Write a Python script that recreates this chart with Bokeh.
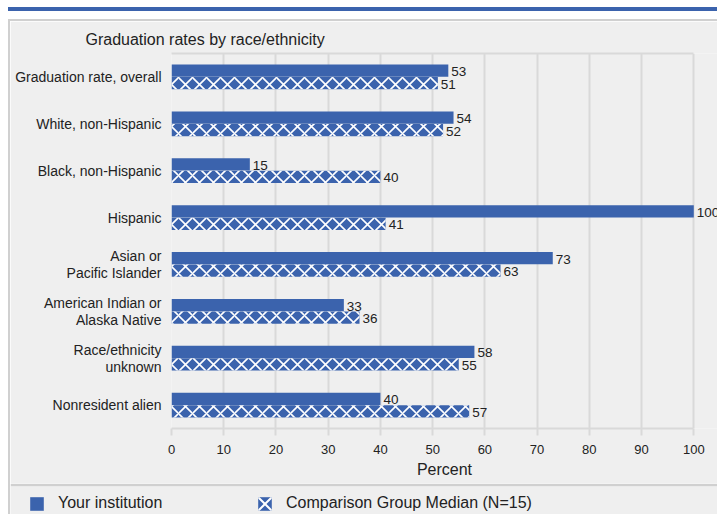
from bokeh.plotting import figure
from bokeh.models import (ColumnDataSource, LabelSet, Legend, LegendItem,
                          FactorRange, Range1d, LinearAxis, FixedTicker, Div)
from bokeh.layouts import column, row
from bokeh.transform import dodge
from bokeh.core.properties import value
from bokeh.embed import file_html
from bokeh.resources import INLINE

categories = ["Graduation rate, overall", "White, non-Hispanic",
              "Black, non-Hispanic", "Hispanic",
              "Asian or\nPacific Islander", "American Indian or\nAlaska Native",
              "Race/ethnicity\nunknown", "Nonresident alien"]
institution = [53, 54, 15, 100, 73, 33, 58, 40]
comparison = [51, 52, 40, 41, 63, 36, 55, 57]
x_ticks = list(range(0, 101, 10))

BLUE = "#3b63ad"
PANEL = "#efefef"
GRID = "#d9d9d9"
BORDER = "#d0d0d0"
FONT = "Liberation Sans"
TXT = "#222222"

src = ColumnDataSource(dict(cat=categories, inst=institution, comp=comparison,
                            inst_t=[str(v) for v in institution],
                            comp_t=[str(v) for v in comparison]))

p = figure(width=707, height=462, output_backend="svg", toolbar_location=None,
           y_range=FactorRange(*categories[::-1]), x_range=Range1d(0, 104.54),
           min_border_left=161, min_border_right=0, min_border_top=32,
           min_border_bottom=55, title="Graduation rates by race/ethnicity")
p.background_fill_color = PANEL
p.border_fill_color = PANEL
p.outline_line_color = None

off = 0.133
bh = 0.262
r1 = p.hbar(y=dodge("cat", off, range=p.y_range), right="inst", left=0, height=bh,
            source=src, fill_color=BLUE, line_color=None)
r2 = p.hbar(y=dodge("cat", -off, range=p.y_range), right="comp", left=0, height=bh,
            source=src, fill_color=BLUE, line_color=None,
            hatch_pattern="x", hatch_color="white", hatch_scale=14, hatch_weight=1.6)

for col, o, t in (("inst", off, "inst_t"), ("comp", -off, "comp_t")):
    p.add_layout(LabelSet(x=col, y=dodge("cat", o, range=p.y_range), text=t, source=src,
                          x_offset=3, y_offset=-1, text_baseline="middle",
                          text_font=value(FONT), text_font_size="13.5px", text_color=TXT))

p.xgrid.grid_line_color = GRID
p.xgrid.grid_line_width = 2
p.xgrid.ticker = x_ticks
p.ygrid.grid_line_color = None

p.xaxis.ticker = x_ticks
p.xaxis.bounds = (0, 100)
p.xaxis.axis_line_color = GRID
p.xaxis.axis_line_width = 2
p.xaxis.major_tick_line_color = GRID
p.xaxis.major_tick_line_width = 2
p.xaxis.major_tick_in = 0
p.xaxis.major_tick_out = 7
p.xaxis.minor_tick_line_color = None
p.xaxis.major_label_standoff = 9
p.xaxis.major_label_text_font = FONT
p.xaxis.major_label_text_font_size = "13px"
p.xaxis.major_label_text_color = TXT
p.xaxis.axis_label = "Percent"
p.xaxis.axis_label_text_font = FONT
p.xaxis.axis_label_text_font_size = "16px"
p.xaxis.axis_label_text_font_style = "normal"
p.xaxis.axis_label_text_color = TXT
p.xaxis.axis_label_standoff = 4

top_axis = LinearAxis(ticker=FixedTicker(ticks=[]), bounds=(0, 100),
                      axis_line_color=GRID, axis_line_width=2,
                      major_tick_line_color=None, minor_tick_line_color=None,
                      major_tick_out=0, minor_tick_out=0, major_label_standoff=0)
p.add_layout(top_axis, "above")

p.yaxis.axis_line_color = None
p.yaxis.major_tick_line_color = None
p.yaxis.major_tick_out = 0
p.yaxis.major_tick_in = 0
p.yaxis.major_label_standoff = 10
p.yaxis.major_label_text_font = FONT
p.yaxis.major_label_text_font_size = "14px"
p.yaxis.major_label_text_color = TXT
p.yaxis.major_label_text_line_height = 1.05

p.title.text_font = FONT
p.title.text_font_size = "16px"
p.title.text_font_style = "normal"
p.title.text_color = TXT
p.title.align = "left"
p.title.offset = -86
p.title.standoff = 11

# legend strip: its top border fill is the separator line
lf = figure(width=707, height=31, output_backend="svg", toolbar_location=None,
            x_range=Range1d(0, 707), y_range=Range1d(0, 28),
            x_axis_location=None, y_axis_location=None,
            min_border=0, min_border_left=0, min_border_right=0,
            min_border_top=3, min_border_bottom=0)
lf.background_fill_color = PANEL
lf.border_fill_color = BORDER
lf.outline_line_color = None
lf.grid.visible = False
# zero-size bars: only their legend swatches are seen
l1 = lf.hbar(y="inst", left="inst", right="inst", height=0, source=src,
             fill_color=BLUE, line_color=None)
l2 = lf.hbar(y="comp", left="comp", right="comp", height=0, source=src,
             fill_color=BLUE, line_color=None,
             hatch_pattern="x", hatch_color="white", hatch_scale=17, hatch_weight=2)

for item, loc in ((LegendItem(label="Your institution", renderers=[l1]), (18, 2)),
                  (LegendItem(label="Comparison Group Median (N=15)", renderers=[l2]), (246, 2))):
    lg = Legend(items=[item], location=loc)
    lg.glyph_width = 17
    lg.glyph_height = 17
    lg.label_standoff = 13
    lg.padding = 0
    lg.margin = 0
    lg.border_line_color = None
    lg.background_fill_alpha = 0
    lg.label_text_font = FONT
    lg.label_text_font_size = "16px"
    lg.label_text_color = TXT
    lg.label_height = 17
    lg.label_text_baseline = "middle"
    lf.add_layout(lg)

topdiv = Div(width=717, height=21, margin=0, styles={"background-color": "white"},
             text=('<div style="position:absolute;left:8px;top:7px;width:709px;height:4px;'
                   'background:%s"></div>'
                   '<div style="position:absolute;left:8px;top:19px;width:709px;height:2px;'
                   'background:%s"></div>') % (BLUE, BORDER))
leftdiv1 = Div(width=10, height=462, margin=0,
               styles={"background": "linear-gradient(to right, white 8px, %s 8px)" % BORDER})
leftdiv2 = Div(width=10, height=31, margin=0,
               styles={"background": "linear-gradient(to right, white 8px, %s 8px)" % BORDER})

layout = column(topdiv, row(leftdiv1, p, spacing=0),
                row(leftdiv2, lf, spacing=0), spacing=0)

open("out.html", "w").write(file_html(layout, INLINE))
